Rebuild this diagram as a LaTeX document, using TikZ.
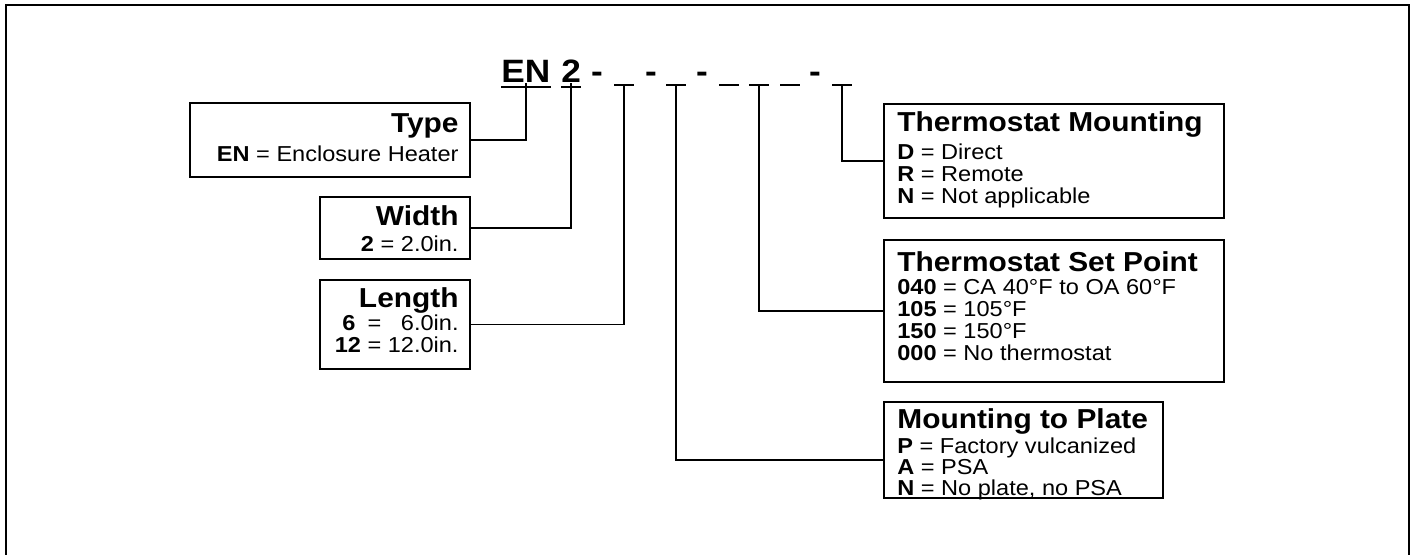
\documentclass[tikz,border=0pt]{standalone}
\usepackage{fontspec}
\setmainfont{Liberation Sans}[FakeStretch=1.09]
\usetikzlibrary{calc,positioning}

\newcommand{\hdr}[1]{{\fontsize{15.6}{16}\selectfont\bfseries #1}}
\newcommand{\keyfont}{\fontsize{12.3}{12.5}\selectfont\lineskiplimit=-\maxdimen}

\tikzset{
  keybox/.style={draw, line width=1.1pt, inner sep=0pt, anchor=north west},
  keytext/.style={inner sep=0pt, font=\keyfont},
  code/.style={inner sep=0pt, font=\fontsize{18.4}{20}\selectfont\bfseries},
  ul/.style={line width=1.5pt},
  field/.style={line width=1pt},
  conn/.style={draw, line width=1pt}
}

\begin{document}
\begin{tikzpicture}[x=0.02cm, y=-0.02cm]
\useasboundingbox (0,0) rectangle (1412,554);
% outer frame
\draw[line width=1.6pt] (6,560) -- (6,5) -- (1409,5) -- (1409,560);

% model code
\node[code, anchor=base west] (en) at (501,83) {EN};
\node[code, anchor=base west] (wd) at (561,83) {2};
\draw[ul] ($(en.base west)+(0,4)$) -- ($(en.base east)+(0,4)$);
\draw[ul] ($(wd.base west)+(0,4)$) -- ($(wd.base east)+(0,4)$);
\foreach \x [count=\i] in {597,651,702,815}
  \node[code, anchor=base] (d\i) at (\x,83) {-};
\foreach \x/\n in {624/f1, 676/f2, 729/f3, 759/f4, 790/f5, 842/f6} {
  \coordinate (\n) at (\x,85);
  \draw[field] ($(\n)+(-10,0)$) -- ($(\n)+(10,0)$);
}

% left boxes
\node[keybox, minimum width=5.6cm, minimum height=1.48cm] (type) at (189,102) {};
\node[keytext, align=right, below left=0.22cm and 0.24cm of type.north east] (typetxt)
  {\hdr{Type}\\[4.3pt] \textbf{EN} = Enclosure Heater};
\node[keybox, minimum width=3cm, minimum height=1.24cm] (width) at (319,196) {};
\node[keytext, align=right, below left=0.18cm and 0.24cm of width.north east] (widthtxt)
  {\hdr{Width}\\[2.5pt] \textbf{2} = 2.0in.};
\node[keybox, minimum width=3cm, minimum height=1.78cm] (len) at (319,279) {};
\node[keytext, align=right, below left=0.16cm and 0.24cm of len.north east] (lentxt)
  {\hdr{Length}\\[0.5pt]
   \makebox[1.112em]{\textbf{6}} = \hphantom{1}6.0in.\\[0.5pt] \textbf{12} = 12.0in.};

% right boxes
\node[keybox, minimum width=6.8cm, minimum height=2.28cm] (tm) at (883,103) {};
\node[keytext, align=left, below right=0.16cm and 0.28cm of tm.north west] (tmtxt)
  {\hdr{Thermostat Mounting}\\[3.7pt]
   \textbf{D} = Direct\\ \textbf{R} = Remote\\ \textbf{N} = Not applicable};
\node[keybox, minimum width=6.8cm, minimum height=2.84cm] (sp) at (883,239) {};
\node[keytext, align=left, below right=0.25cm and 0.28cm of sp.north west] (sptxt)
  {\hdr{Thermostat Set Point}\\[0.5pt]
   \textbf{040} = CA 40°F to OA 60°F\\ \textbf{105} = 105°F\\ \textbf{150} = 150°F\\
   \textbf{000} = No thermostat};
\node[keybox, minimum width=5.58cm, minimum height=1.92cm] (plate) at (883,401) {};
\node[keytext, align=left, below right=0.14cm and 0.28cm of plate.north west] (platetxt)
  {\hdr{Mounting to Plate}\\[2pt]
   \textbf{P} = Factory vulcanized\\[-0.7pt] \textbf{A} = PSA\\[-0.7pt] \textbf{N} = No plate, no PSA};

% connectors
\draw[conn] (en.south) |- (type.east);
\draw[conn] (wd.south) |- (width.east);
\draw[conn] (f1) |- (len.east);
\draw[conn] (f2) |- ($(plate.north west)!0.6!(plate.south west)$);
\draw[conn] (f4) |- (sp.west);
\draw[conn] (f6) |- (tm.west);
\end{tikzpicture}
\end{document}
